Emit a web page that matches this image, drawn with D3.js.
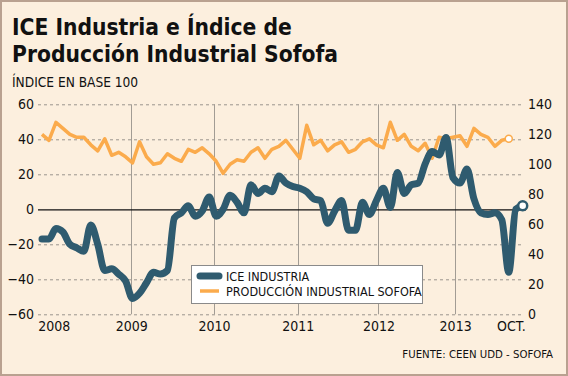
<!DOCTYPE html>
<html>
<head>
<meta charset="utf-8">
<script src="https://cdn.jsdelivr.net/npm/d3@7"></script>
<style>
  html, body { margin: 0; padding: 0; background: #fcefde; }
  svg { display: block; }
  text { font-family: "DejaVu Sans Condensed", "DejaVu Sans", sans-serif; fill: #111; }
</style>
</head>
<body>
<div id="chart"></div>
<script>
// Datos (índice mensual, ene 2008 - oct 2013)
const iceIndustria = [
  -17, -17, -11, -13, -20, -22, -24, -9, -20, -35,
  -34, -37, -41, -51, -48, -42, -36, -37, -35, -5,
  -2, 2, -4, -1, 7, -4, 0, 8, 4, -2,
  14, 9, 12, 10, 19, 15, 13, 12, 10, 6,
  5, -8, -1, 5, -12, -12, 4, -3, 5, 12,
  1, 21, 9, 14, 15, 26, 33, 31, 41, 18,
  15, 23, 6, -2, -3, -2, -6, -36, 0, 2
];
const produccionSofofa = [
  120, 116, 128, 124, 120, 118, 118, 113, 109, 117,
  106, 108, 105, 101, 115, 105, 100, 101, 107, 104,
  102, 110, 108, 111, 107, 102, 94, 100, 103, 102,
  108, 111, 104, 110, 112, 116, 110, 104, 126, 113,
  116, 109, 113, 115, 108, 110, 115, 117, 113, 111,
  128, 116, 120, 112, 109, 114, 104, 118, 117, 118,
  119, 112, 124, 120, 118, 112, 116, 117
];
const xTickLabels = ["2008", "2009", "2010", "2011", "2012", "2013", "OCT."];
const xTickMonths = [1.7, 12.8, 24.7, 36.7, 48.3, 59.3, 67.3];
const yearLineMonths = [12.8, 24.7, 36.7, 48.3, 59.3];
const leftTicks = [-60, -40, -20, 0, 20, 40, 60];
const rightTicks = [0, 20, 40, 60, 80, 100, 120, 140];
const seriesNames = ["ICE INDUSTRIA", "PRODUCCIÓN INDUSTRIAL SOFOFA"];

const W = 568, H = 376;
const colors = { ice: "#2f5b6f", sofofa: "#fbab4c" };

const svg = d3.select("#chart").append("svg")
  .attr("width", W).attr("height", H);

svg.append("rect")
  .attr("x", 1).attr("y", 1).attr("width", W - 2).attr("height", H - 2)
  .attr("fill", "#fcefde").attr("stroke", "#b9a190").attr("stroke-width", 2);

// títulos
svg.append("text").attr("x", 12).attr("y", 35)
  .attr("font-size", 22.6).attr("font-weight", "bold")
  .text("ICE Industria e Índice de");
svg.append("text").attr("x", 12).attr("y", 62)
  .attr("font-size", 22.6).attr("font-weight", "bold")
  .text("Producción Industrial Sofofa");
svg.append("text").attr("x", 12).attr("y", 87)
  .attr("font-size", 13.6)
  .text("ÍNDICE EN BASE 100");

// escalas
const x = d3.scaleLinear().domain([0, 69]).range([42, 522.7]);
const yLeft = d3.scaleLinear().domain([-60, 60]).range([314.3, 104.3]);
const yRight = d3.scaleLinear().domain([0, 140]).range([314.3, 104.3]);
const plotLeft = 38, plotRight = 524;

// rejilla
svg.append("g")
  .selectAll("line")
  .data(leftTicks.filter(d => d !== 0))
  .join("line")
  .attr("x1", plotLeft).attr("x2", plotRight)
  .attr("y1", d => yLeft(d) + 0.5).attr("y2", d => yLeft(d) + 0.5)
  .attr("stroke", "#9a958e").attr("stroke-dasharray", "3,3");

svg.append("g")
  .selectAll("line")
  .data(yearLineMonths)
  .join("line")
  .attr("x1", d => Math.round(x(d)) + 0.5).attr("x2", d => Math.round(x(d)) + 0.5)
  .attr("y1", yLeft(60)).attr("y2", yLeft(-60))
  .attr("stroke", "#a29c94").attr("stroke-width", 1);

svg.append("line")
  .attr("x1", plotLeft).attr("x2", plotRight + 2)
  .attr("y1", yLeft(0) + 0.5).attr("y2", yLeft(0) + 0.5)
  .attr("stroke", "#111").attr("stroke-width", 1.3);

// ejes
const axisLeft = svg.append("g")
  .attr("transform", "translate(34,0)")
  .call(d3.axisLeft(yLeft).tickValues(leftTicks).tickSize(0).tickPadding(0));
const axisRight = svg.append("g")
  .attr("transform", "translate(528,0)")
  .call(d3.axisRight(yRight).tickValues(rightTicks).tickSize(0).tickPadding(0));
const axisBottom = svg.append("g")
  .attr("transform", "translate(0,321)")
  .call(d3.axisBottom(x).tickValues(xTickMonths).tickSize(0).tickPadding(0)
    .tickFormat((d, i) => xTickLabels[i]));

[axisLeft, axisRight, axisBottom].forEach(g => {
  g.select(".domain").remove();
  g.selectAll("text")
    .attr("font-family", "'DejaVu Sans Condensed', 'DejaVu Sans', sans-serif")
    .attr("font-size", 14).attr("fill", "#111");
});

// series
const lineSofofa = d3.line()
  .x((d, i) => x(i)).y(d => yRight(d));
const lineIce = d3.line()
  .x((d, i) => x(i)).y(d => yLeft(d))
  .curve(d3.curveMonotoneX);

svg.append("path")
  .datum(produccionSofofa)
  .attr("fill", "none").attr("stroke", colors.sofofa)
  .attr("stroke-width", 3.5).attr("stroke-linejoin", "round")
  .attr("d", lineSofofa);

svg.append("path")
  .datum(iceIndustria)
  .attr("fill", "none").attr("stroke", colors.ice)
  .attr("stroke-width", 7).attr("stroke-linejoin", "round").attr("stroke-linecap", "round")
  .attr("d", lineIce);

svg.append("circle")
  .attr("cx", x(produccionSofofa.length - 1))
  .attr("cy", yRight(produccionSofofa[produccionSofofa.length - 1]))
  .attr("r", 3.5).attr("fill", "#fff")
  .attr("stroke", colors.sofofa).attr("stroke-width", 1.5);

svg.append("circle")
  .attr("cx", x(iceIndustria.length - 1))
  .attr("cy", yLeft(iceIndustria[iceIndustria.length - 1]))
  .attr("r", 4.5).attr("fill", "#fff")
  .attr("stroke", colors.ice).attr("stroke-width", 2.5);

// leyenda
const legend = svg.append("g").attr("transform", "translate(191,265)");
legend.append("rect")
  .attr("x", 0.5).attr("y", 0.5).attr("width", 231).attr("height", 38)
  .attr("fill", "#fff").attr("stroke", "#8a8a8a");
const legendItems = [
  { name: seriesNames[0], color: colors.ice, width: 7 },
  { name: seriesNames[1], color: colors.sofofa, width: 3.5 }
];
legendItems.forEach((item, i) => {
  const row = legend.append("g").attr("transform", `translate(0,${11 + i * 15})`);
  row.append("line")
    .attr("x1", 9).attr("x2", 28)
    .attr("stroke", item.color).attr("stroke-width", item.width)
    .attr("stroke-linecap", i === 0 ? "round" : "butt");
  row.append("text")
    .attr("x", 35).attr("y", 5)
    .attr("font-size", 12.5)
    .text(item.name);
});

// fuente
svg.append("text")
  .attr("x", 553).attr("y", 358)
  .attr("text-anchor", "end").attr("font-size", 11.3)
  .text("FUENTE: CEEN UDD - SOFOFA");
</script>
</body>
</html>
